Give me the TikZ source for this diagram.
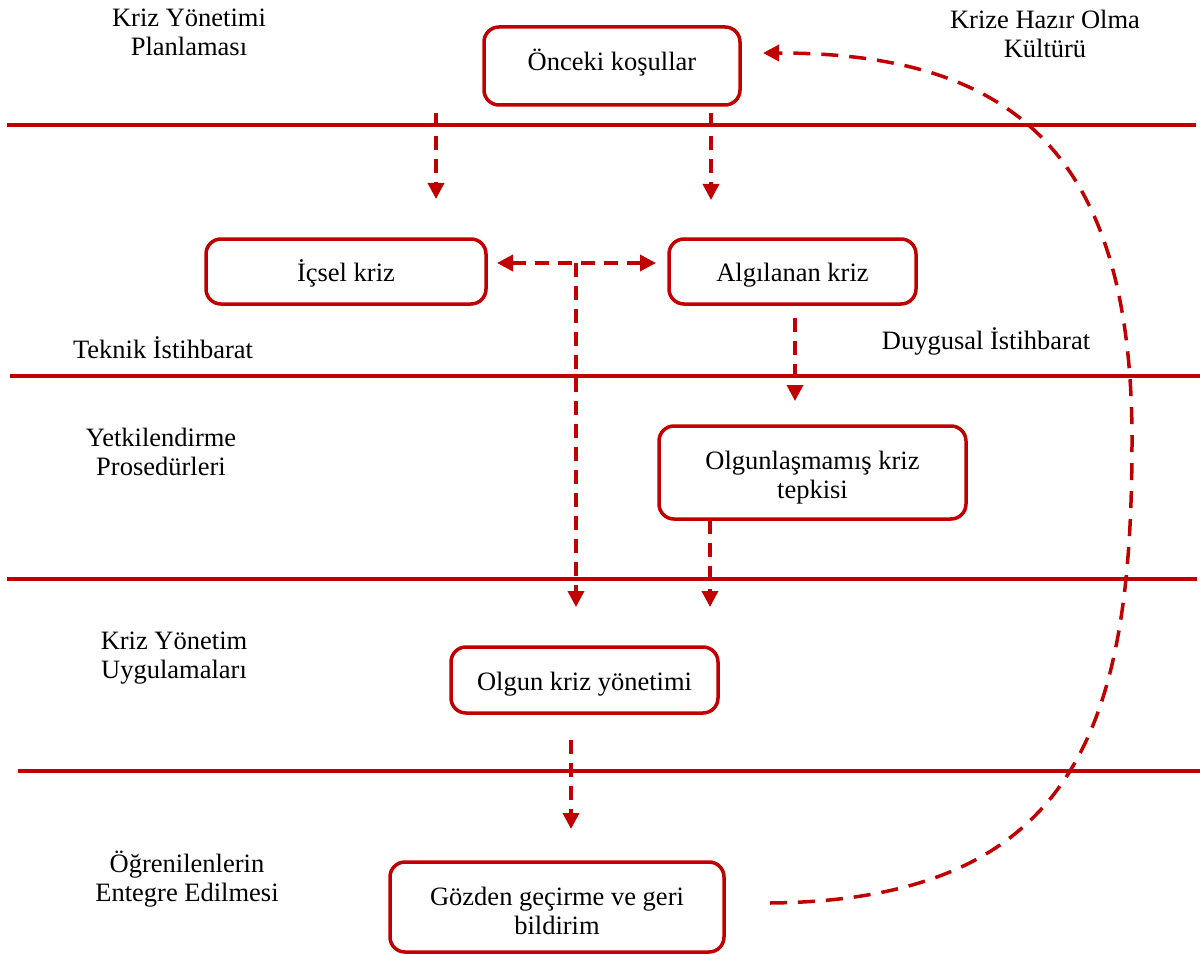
\documentclass[tikz,border=0pt]{standalone}
\usepackage{fontspec}
\setmainfont{Liberation Serif}
\usetikzlibrary{arrows.meta}
\definecolor{cred}{HTML}{C00000}
\begin{document}
\begin{tikzpicture}[x=1pt,y=-1pt,
  every node/.style={font=\fontsize{26.5}{29}\selectfont, text=black, inner sep=0pt},
  sepline/.style={cred, line width=4pt},
  boxstyle/.style={draw=cred, line width=3.5pt, rounded corners=15pt, align=center},
  onebox/.style={boxstyle, text height=26pt, text depth=6pt},
  lbl/.style={align=center},
  conn/.style={cred, line width=3.5pt, dash pattern=on 14pt off 9pt, -{Triangle[length=16pt,width=16pt]}},
  connb/.style={cred, line width=3.5pt, dash pattern=on 14pt off 9pt, {Triangle[length=16pt,width=16pt]}-{Triangle[length=16pt,width=16pt]}},
  curveconn/.style={cred, line width=3.5pt, dash pattern=on 17pt off 11pt, -{Triangle[length=16pt,width=16pt]}}]
\useasboundingbox (0,0) rectangle (1200,955);

% separator lines
\draw[sepline] (7,125) -- (1196,125);
\draw[sepline] (10,376) -- (1200,376);
\draw[sepline] (7,579) -- (1197,579);
\draw[sepline] (18,771) -- (1200,771);

% boxes
\node[boxstyle, minimum width=256pt, minimum height=78pt] (onceki) at (612,66) {\raisebox{12pt}{Önceki koşullar}};
\node[onebox, minimum width=280pt, minimum height=65pt] (icsel) at (346,271.5) {İçsel kriz};
\node[onebox, minimum width=247pt, minimum height=65pt] (algilanan) at (792.5,271.5) {Algılanan kriz};
\node[boxstyle, minimum width=307pt, minimum height=93pt] (olgunlasmamis) at (812.5,472.5) {\rule{0pt}{28pt}Olgunlaşmamış kriz\\tepkisi};
\node[onebox, minimum width=267pt, minimum height=66pt] (olgun) at (584.5,680) {Olgun kriz yönetimi};
\node[boxstyle, minimum width=334pt, minimum height=90pt] (gozden) at (557,907) {\rule{0pt}{26pt}Gözden geçirme ve geri\\bildirim};

% side labels
\node[lbl] (l1) at (189,32.5) {Kriz Yönetimi\\Planlaması};
\node[lbl] (l2) at (1045,33.5) {Krize Hazır Olma\\Kültürü};
\node[lbl] (l3) at (163,348) {Teknik İstihbarat};
\node[lbl] (l4) at (986,341) {Duygusal İstihbarat};
\node[lbl] (l5) at (161,451.5) {Yetkilendirme\\Prosedürleri};
\node[lbl] (l6) at (174,658) {Kriz Yönetim\\Uygulamaları};
\node[lbl] (l7) at (187,879) {Öğrenilenlerin\\Entegre Edilmesi};

% connector end points
\coordinate (a1s) at (436,113);
\coordinate (a1e) at (436,199);
\coordinate (a2s) at (711,113);
\coordinate (a2e) at (711,200);
\coordinate (dl) at (497,263);
\coordinate (dr) at (656,263);
\coordinate (dj) at (576,263);
\coordinate (dje) at (576,607);
\coordinate (a4s) at (795,318);
\coordinate (a4e) at (795,401);
\coordinate (a5s) at (710,520);
\coordinate (a5e) at (710,607);
\coordinate (a6s) at (571,740);
\coordinate (a6e) at (571,829);
\coordinate (fb) at (770,903);
\coordinate (fm) at (1132,440);
\coordinate (ft) at (763,53);

\draw[conn] (a1s) -- (a1e);
\draw[conn] (a2s) -- (a2e);
\draw[connb] (dl) -- (dr);
\draw[conn] (dj) -- (dje);
\draw[conn] (a4s) -- (a4e);
\draw[conn] (a5s) -- (a5e);
\draw[conn] (a6s) -- (a6e);
\draw[curveconn] (fb) .. controls (1080,900) and (1132,720) .. (fm) .. controls (1132,150) and (1010,53) .. (ft);
\end{tikzpicture}
\end{document}
